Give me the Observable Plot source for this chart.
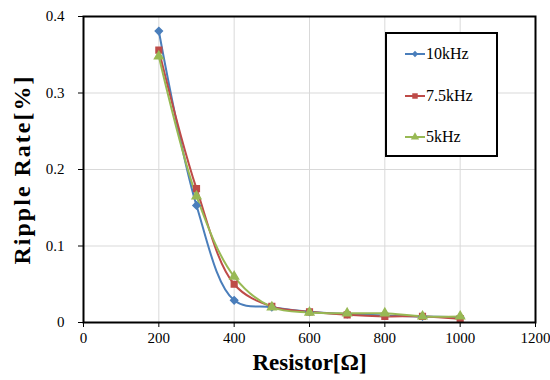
<!DOCTYPE html>
<html>
<head>
<meta charset="utf-8">
<script src="https://cdn.jsdelivr.net/npm/d3@7"></script>
<script src="https://cdn.jsdelivr.net/npm/@observablehq/plot@0.6"></script>
<style>
  html, body { margin: 0; padding: 0; background: #fff; }
  #wrap { position: relative; width: 550px; height: 380px; }
  #legend { position: absolute; left: 385px; top: 32px; width: 109px; height: 121px; border: 2px solid #000; background: #fff; box-sizing: content-box; }
  .item { position: absolute; left: 18px; display: flex; align-items: center; }
  .item svg { margin-right: 1px; }
</style>
</head>
<body>
<div id="wrap"><div id="legend"></div></div>
<script>
const resistors = [200, 300, 400, 500, 600, 700, 800, 900, 1000];
const series = ["10kHz", "7.5kHz", "5kHz"];
const ripple10k  = [0.381, 0.153, 0.029, 0.020, 0.014, 0.011, 0.009, 0.008, 0.007];
const ripple7_5k = [0.356, 0.175, 0.050, 0.021, 0.014, 0.010, 0.008, 0.008, 0.005];
const ripple5k   = [0.348, 0.165, 0.060, 0.020, 0.013, 0.012, 0.012, 0.008, 0.008];
const colors = ["#4A7EBB", "#BE4B48", "#98B954"];
const symbols = ["diamond2", "square", "triangle"];
const xTicks = [0, 200, 400, 600, 800, 1000, 1200];
const yTicks = [0, 0.1, 0.2, 0.3, 0.4];

const valuesBySeries = [ripple10k, ripple7_5k, ripple5k];
const data = [];
series.forEach((s, i) => resistors.forEach((r, j) => data.push({series: s, r, v: valuesBySeries[i][j]})));

const serif = "'Liberation Serif', 'Times New Roman', serif";
const plot = Plot.plot({
  width: 550,
  height: 380,
  marginLeft: 83,
  marginRight: 15,
  marginTop: 16,
  marginBottom: 58,
  style: {fontFamily: serif, fontSize: "15px", color: "#000", background: "transparent"},
  x: {domain: [0, 1200]},
  y: {domain: [0, 0.4]},
  color: {domain: series, range: colors},
  symbol: {domain: series, range: symbols},
  marks: [
    Plot.gridX(xTicks, {stroke: "#d9d9d9", strokeOpacity: 1, strokeWidth: 1}),
    Plot.gridY(yTicks, {stroke: "#d9d9d9", strokeOpacity: 1, strokeWidth: 1}),
    Plot.line(data, {x: "r", y: "v", z: "series", stroke: "series", strokeWidth: 2, curve: "catmull-rom"}),
    Plot.dot(data, {x: "r", y: "v", fill: "series", stroke: "series", symbol: "series", r: 3.2}),
    Plot.frame({stroke: "#000", strokeWidth: 2}),
    Plot.axisX({ticks: xTicks, tickFormat: d => String(d), tickSize: 5, tickPadding: 5, fontSize: 15, label: "Resistor[Ω]", labelAnchor: "center", labelArrow: "none", labelOffset: 47}),
    Plot.axisY({ticks: yTicks, tickFormat: d => d === 0 ? "0" : String(d), tickSize: 5, tickPadding: 14, fontSize: 15, label: "Ripple Rate[%]", labelAnchor: "center", labelArrow: "none", labelOffset: 71})
  ]
});
const svg = plot;
svg.style.position = "absolute";
svg.style.left = "0px";
svg.style.top = "0px";
d3.select(svg).selectAll("text").style("font-family", serif).style("font-size", "15px");
d3.select(svg).selectAll("[aria-label='x-axis label'] text")
  .style("font-size", "23px").style("font-weight", "bold");
d3.select(svg).selectAll("[aria-label='y-axis label'] text")
  .style("font-size", "24px").style("font-weight", "bold").style("letter-spacing", "2px");
document.getElementById("wrap").insertBefore(svg, document.getElementById("legend"));

// legend
const leg = document.getElementById("legend");
series.forEach((s, i) => {
  const div = document.createElement("div");
  div.className = "item";
  div.style.top = (11 + i * 41.5) + "px";
  div.style.fontFamily = serif;
  div.style.fontSize = "16px";
  const sw = d3.create("svg").attr("width", 20).attr("height", 12);
  sw.append("line").attr("x1", 0).attr("x2", 20).attr("y1", 6).attr("y2", 6).attr("stroke", colors[i]).attr("stroke-width", 2);
  const sym = d3.symbol().type([d3.symbolDiamond2, d3.symbolSquare, d3.symbolTriangle][i]).size(i === 0 ? 25 : 30);
  sw.append("path").attr("d", sym()).attr("transform", "translate(10,6)").attr("fill", colors[i]);
  div.appendChild(sw.node());
  const t = document.createElement("span");
  t.textContent = s;
  div.appendChild(t);
  leg.appendChild(div);
});
</script>
</body>
</html>
